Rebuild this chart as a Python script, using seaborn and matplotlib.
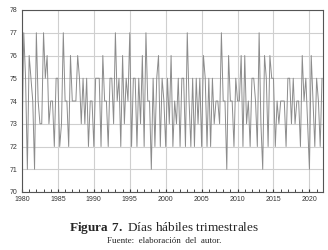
import numpy as np
import pandas as pd
import matplotlib
matplotlib.use("Agg")
import matplotlib.pyplot as plt
import seaborn as sns

# quarterly working days, 1980Q1 .. 2021Q4
dias = [
    72, 77, 75, 71,  76, 75, 74, 71,  77, 74, 73, 73,  77, 75, 76, 73,
    74, 74, 72, 75,  75, 72, 73, 77,  74, 74, 72, 76,  74, 74, 74, 76,
    75, 73, 75, 73,  75, 72, 74, 74,  72, 75, 75, 75,  72, 76, 74, 74,
    72, 75, 75, 73,  77, 74, 75, 72,  76, 73, 75, 74,  77, 72, 75, 75,
    72, 75, 73, 76,  72, 77, 74, 74,  71, 75, 72, 75,  76, 72, 75, 74,
    72, 75, 73, 76,  72, 74, 73, 75,  72, 75, 75, 72,  77, 74, 72, 75,
    72, 75, 73, 75,  72, 76, 75, 72,  75, 72, 75, 73,  74, 74, 73, 77,
    74, 74, 71, 76,  74, 74, 72, 75,  74, 74, 76, 72,  76, 73, 74, 72,
    75, 75, 74, 72,  77, 73, 71, 76,  75, 72, 76, 75,  75, 72, 74, 73,
    74, 74, 74, 72,  75, 75, 73, 75,  73, 74, 74, 72,  76, 74, 75, 73,
    71, 76, 74, 72,  75, 74, 72, 75,
]
anio_inicio = 1980
x_ticks = [1980, 1985, 1990, 1995, 2000, 2005, 2010, 2015, 2020]
y_ticks = [70, 71, 72, 73, 74, 75, 76, 77, 78]

df = pd.DataFrame({"t": anio_inicio + np.arange(len(dias)) / 4, "dias": dias})

sns.set_style("white")
plt.rcParams["font.family"] = ["Liberation Sans", "DejaVu Sans"]
plt.rcParams["mathtext.fontset"] = "custom"
plt.rcParams["mathtext.bf"] = "Liberation Serif:bold"
plt.rcParams["mathtext.rm"] = "Liberation Serif"

fig = plt.figure(figsize=(3.28, 2.5), dpi=100)
ax = fig.add_axes([0.067, 0.232, 0.918, 0.728])

ax.grid(True, color="#cfcfcf", linewidth=0.8)
ax.set_axisbelow(True)
sns.lineplot(data=df, x="t", y="dias", ax=ax, color="#8c8c8c", linewidth=0.7)

ax.set_xlim(1980, 2021.9)
ax.set_ylim(70, 78)
ax.set_xticks(x_ticks)
ax.set_xticks(np.arange(1980, 2022), minor=True)
ax.set_yticks(y_ticks)
ax.tick_params(axis="both", labelsize=5, colors="#333333", length=0, pad=3)
ax.tick_params(axis="x", which="both", direction="in", length=2.5, bottom=True)
ax.set_xlabel("")
ax.set_ylabel("")
for s in ax.spines.values():
    s.set_color("#555555")
    s.set_linewidth(0.8)

fig.text(0.5, 0.088, r"$\mathbf{Figura\ 7.}$ Días hábiles trimestrales",
         ha="center", va="center", fontsize=9.5,
         family=["Liberation Serif", "DejaVu Serif"])
fig.text(0.5, 0.035, "Fuente:  elaboración  del  autor.", ha="center", va="center",
         fontsize=6.5, family=["Liberation Serif", "DejaVu Serif"])

fig.savefig("out.png", dpi=100)
